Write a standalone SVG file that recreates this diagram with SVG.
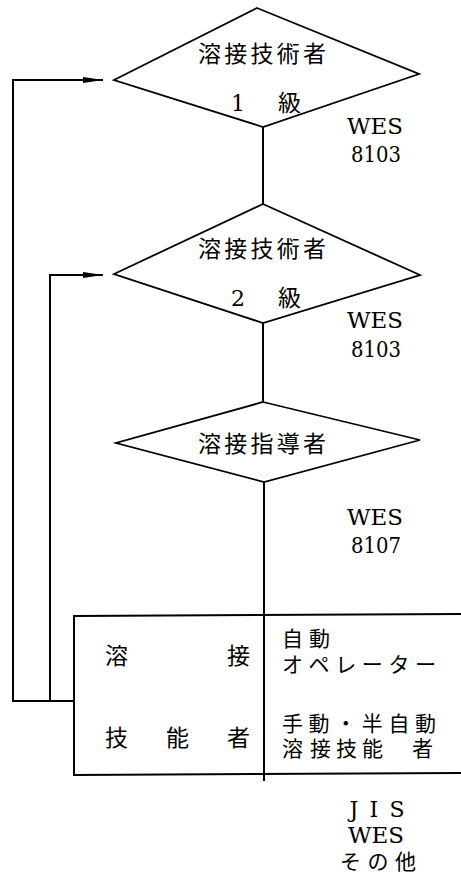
<svg xmlns="http://www.w3.org/2000/svg" width="461" height="877" viewBox="0 0 461 877">
<style>
.shape{fill:none;stroke:#000;stroke-width:1.8;stroke-linejoin:miter}
.line{fill:none;stroke:#000;stroke-width:2}
.jp{font-family:'Noto Sans CJK JP','Noto Sans CJK SC',sans-serif;font-size:23px;fill:#000}
.jps{font-family:'Noto Sans CJK JP','Noto Sans CJK SC',sans-serif;font-size:21px;fill:#000}
.lat{font-family:'DejaVu Serif','Liberation Serif',serif;font-size:22px;fill:#000}
</style>
<defs>
<marker id="arr" markerUnits="userSpaceOnUse" markerWidth="22" markerHeight="8" refX="20" refY="4" orient="auto">
<path d="M0,1 L20,4 L0,7 Z" fill="#000"/>
</marker>
</defs>
<rect width="461" height="877" fill="#fff"/>
<g id="connectors">
<line class="line" x1="263" y1="127" x2="263" y2="204"/>
<line class="line" x1="263" y1="323" x2="263" y2="402"/>
<line class="line" x1="264" y1="482" x2="264" y2="781"/>
<polyline class="line" points="74,701 13,701 13,80 103,80" marker-end="url(#arr)"/>
<polyline class="line" points="50,701 50,275 103,275" marker-end="url(#arr)"/>
</g>
<g id="node1">
<polygon class="shape" points="257,8 419,74 263,127 114,80"/>
<text class="jp" x="262" y="62" text-anchor="middle" textLength="128" lengthAdjust="spacing">溶接技術者</text>
<text class="lat" x="231" y="111">1</text>
<text class="jp" x="278" y="111">級</text>
</g>
<g id="wes1">
<text class="lat" x="375" y="134" text-anchor="middle" textLength="56" lengthAdjust="spacingAndGlyphs">WES</text>
<text class="lat" x="376" y="162" text-anchor="middle" textLength="50" lengthAdjust="spacingAndGlyphs">8103</text>
</g>
<g id="node2">
<polygon class="shape" points="263,204 420,275 263,323 114,274"/>
<text class="jp" x="262" y="257" text-anchor="middle" textLength="128" lengthAdjust="spacing">溶接技術者</text>
<text class="lat" x="231" y="306">2</text>
<text class="jp" x="278" y="306">級</text>
</g>
<g id="wes2">
<text class="lat" x="375" y="328" text-anchor="middle" textLength="56" lengthAdjust="spacingAndGlyphs">WES</text>
<text class="lat" x="376" y="357" text-anchor="middle" textLength="50" lengthAdjust="spacingAndGlyphs">8103</text>
</g>
<g id="node3">
<polygon class="shape" points="263,402 420,440 264,482 116,443"/>
<text class="jp" x="262" y="452" text-anchor="middle" textLength="128" lengthAdjust="spacing">溶接指導者</text>
</g>
<g id="wes3">
<text class="lat" x="375" y="525" text-anchor="middle" textLength="56" lengthAdjust="spacingAndGlyphs">WES</text>
<text class="lat" x="376" y="553" text-anchor="middle" textLength="50" lengthAdjust="spacingAndGlyphs">8107</text>
</g>
<g id="node4">
<polyline class="line" points="461,614 74,616 74,775 461,773"/>
<text class="jp" x="105" y="664">溶</text>
<text class="jp" x="227" y="664">接</text>
<text class="jp" x="105" y="746">技</text>
<text class="jp" x="166" y="746">能</text>
<text class="jp" x="227" y="746">者</text>
<text class="jps" x="282" y="646" textLength="48" lengthAdjust="spacing">自動</text>
<text class="jps" x="282" y="672" textLength="154" lengthAdjust="spacing">オペレーター</text>
<text class="jps" x="282" y="731" textLength="154" lengthAdjust="spacing">手動・半自動</text>
<text class="jps" x="282 310 336 362 412" y="756">溶接技能者</text>
</g>
<g id="standards">
<text class="lat" x="377" y="817" text-anchor="middle" textLength="55" lengthAdjust="spacing">JIS</text>
<text class="lat" x="376" y="843" text-anchor="middle" textLength="56" lengthAdjust="spacingAndGlyphs">WES</text>
<text class="jps" x="378" y="869" text-anchor="middle" textLength="76" lengthAdjust="spacing">その他</text>
</g>
</svg>
